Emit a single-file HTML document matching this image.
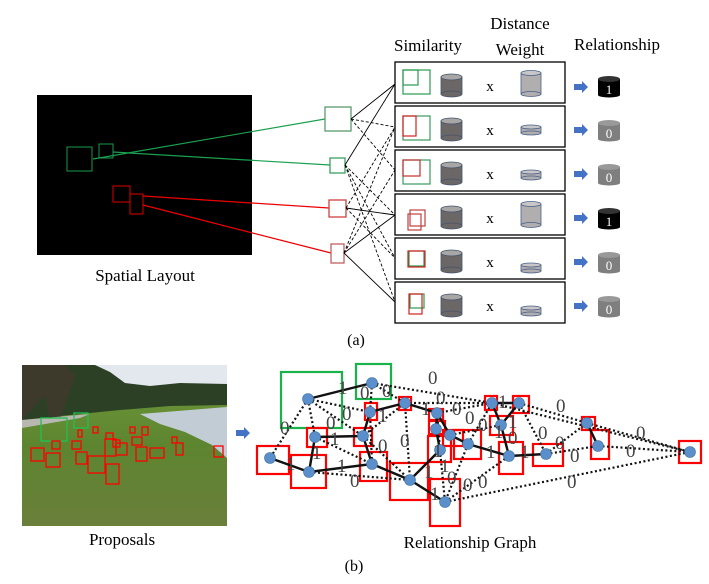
<!DOCTYPE html>
<html><head><meta charset="utf-8"><style>
html,body{margin:0;padding:0;background:#fff;}
svg{display:block;}
text{font-family:"Liberation Serif",serif;}
</style></head><body>
<svg width="709" height="584" viewBox="0 0 709 584" xmlns="http://www.w3.org/2000/svg">
<defs>
<g id="dcyl"><rect x="0" y="4" width="21" height="17" fill="#6b6767" stroke="#44546a" stroke-width="0.8"/><ellipse cx="10.5" cy="21" rx="10.5" ry="3" fill="#6b6767" stroke="#44546a" stroke-width="0.8"/><ellipse cx="10.5" cy="4" rx="10.5" ry="3" fill="#a9a6a6" stroke="#44546a" stroke-width="0.8"/></g>
<g id="ltall"><rect x="0" y="3" width="20" height="21" fill="#b0aeae" stroke="#4a5f8a" stroke-width="0.8"/><ellipse cx="10" cy="24" rx="10" ry="2.5" fill="#b0aeae" stroke="#4a5f8a" stroke-width="0.8"/><ellipse cx="10" cy="3" rx="10" ry="2.5" fill="#c8c6c6" stroke="#4a5f8a" stroke-width="0.8"/></g>
<g id="lshort"><rect x="0" y="2" width="20" height="6" fill="#b0aeae" stroke="#4a5f8a" stroke-width="0.8"/><ellipse cx="10" cy="8" rx="10" ry="2" fill="#b0aeae" stroke="#4a5f8a" stroke-width="0.8"/><ellipse cx="10" cy="2" rx="10" ry="2" fill="#c8c6c6" stroke="#4a5f8a" stroke-width="0.8"/></g>
<g id="arr"><path d="M0,-3 H8 V-6 L14,0 L8,6 V3 H0 Z" fill="#4472c4"/></g>
</defs>

<text x="428" y="51" font-size="17" text-anchor="middle">Similarity</text>
<text x="520" y="29" font-size="17" text-anchor="middle">Distance</text>
<text x="520" y="55" font-size="17" text-anchor="middle">Weight</text>
<text x="617" y="50" font-size="17" text-anchor="middle">Relationship</text>

<rect x="37" y="95" width="215" height="160" fill="#000"/>
<rect x="67" y="147" width="25" height="24" fill="none" stroke="#1a9a4a" stroke-width="1"/>
<rect x="99" y="144" width="14" height="14" fill="none" stroke="#1a9a4a" stroke-width="1"/>
<rect x="113" y="186" width="17" height="16" fill="none" stroke="#d00" stroke-width="1"/>
<rect x="130" y="194" width="13" height="20" fill="none" stroke="#d00" stroke-width="1"/>
<line x1="93" y1="159" x2="325" y2="119" stroke="#1aa04e" stroke-width="1.2"/>
<line x1="113" y1="152" x2="330" y2="165" stroke="#1aa04e" stroke-width="1.2"/>
<line x1="143" y1="196" x2="329" y2="208" stroke="#e00" stroke-width="1.2"/>
<line x1="143" y1="205" x2="331" y2="253" stroke="#e00" stroke-width="1.2"/>
<text x="145" y="281" font-size="17" text-anchor="middle">Spatial Layout</text>

<rect x="325" y="107" width="26" height="24" fill="#fff" stroke="#5a9a70" stroke-width="1.3"/>
<rect x="330" y="158" width="15" height="15" fill="#fff" stroke="#3aa060" stroke-width="1.3"/>
<rect x="329" y="200" width="17" height="17" fill="#fff" stroke="#d04040" stroke-width="1.3"/>
<rect x="331" y="244" width="13" height="19" fill="#fff" stroke="#c06060" stroke-width="1.3"/>

<g stroke="#000" stroke-width="0.9" fill="none">
<line x1="351" y1="119" x2="395" y2="84"/>
<line x1="345" y1="165" x2="395" y2="84"/>
<line x1="346" y1="208" x2="395" y2="215"/>
<line x1="344" y1="253" x2="395" y2="215"/>
<line x1="344" y1="253" x2="395" y2="302"/>
</g>
<g stroke="#000" stroke-width="0.9" fill="none" stroke-dasharray="3,2">
<line x1="351" y1="119" x2="395" y2="127"/>
<line x1="351" y1="119" x2="395" y2="170"/>
<line x1="345" y1="165" x2="395" y2="258"/>
<line x1="345" y1="165" x2="395" y2="302"/>
<line x1="345" y1="165" x2="395" y2="215"/>
<line x1="346" y1="208" x2="395" y2="127"/>
<line x1="346" y1="208" x2="395" y2="258"/>
<line x1="344" y1="253" x2="395" y2="170"/>
<line x1="344" y1="253" x2="395" y2="127"/>
</g>

<g stroke="#000" stroke-width="1.3" fill="#fff">
<rect x="395" y="62" width="170" height="41"/>
<rect x="395" y="106" width="170" height="41"/>
<rect x="395" y="150" width="170" height="41"/>
<rect x="395" y="194" width="170" height="41"/>
<rect x="395" y="238" width="170" height="41"/>
<rect x="395" y="282" width="170" height="41"/>
</g>
<g fill="none" stroke-width="1.2">
<rect x="403" y="70" width="27" height="24" stroke="#2a9a50"/><rect x="403" y="70" width="15" height="15" stroke="#2a9a50"/>
<rect x="403" y="116" width="27" height="24" stroke="#3a9a60"/><rect x="403" y="116" width="13" height="20" stroke="#d02020"/>
<rect x="403" y="160" width="27" height="24" stroke="#3a9a60"/><rect x="403" y="160" width="17" height="16" stroke="#c03030"/>
<rect x="410" y="210" width="15" height="16" stroke="#c04040"/><rect x="408" y="214" width="13" height="16" stroke="#c04040"/>
<rect x="409" y="251" width="15" height="15" stroke="#2a9a50"/><rect x="408" y="251" width="17" height="16" stroke="#d02020"/>
<rect x="410" y="294" width="14" height="14" stroke="#2a9a50"/><rect x="409" y="294" width="13" height="20" stroke="#d02020"/>
</g>
<use href="#dcyl" x="441" y="73"/><use href="#dcyl" x="441" y="117"/><use href="#dcyl" x="441" y="161"/>
<use href="#dcyl" x="441" y="205"/><use href="#dcyl" x="441" y="249"/><use href="#dcyl" x="441" y="293"/>
<g font-size="15" text-anchor="middle">
<text x="490" y="91" font-family="Liberation Sans,sans-serif">x</text>
<text x="490" y="135" font-family="Liberation Sans,sans-serif">x</text>
<text x="490" y="179" font-family="Liberation Sans,sans-serif">x</text>
<text x="490" y="223" font-family="Liberation Sans,sans-serif">x</text>
<text x="490" y="267" font-family="Liberation Sans,sans-serif">x</text>
<text x="490" y="311" font-family="Liberation Sans,sans-serif">x</text>
</g>
<use href="#ltall" x="521" y="70"/>
<use href="#lshort" x="521" y="125"/>
<use href="#lshort" x="521" y="170"/>
<use href="#ltall" x="521" y="201"/>
<use href="#lshort" x="521" y="263"/>
<use href="#lshort" x="521" y="306"/>

<use href="#arr" x="574" y="87"/><use href="#arr" x="574" y="130"/><use href="#arr" x="574" y="174"/>
<use href="#arr" x="574" y="218"/><use href="#arr" x="574" y="262"/><use href="#arr" x="574" y="306"/>
<g>
<rect x="598" y="79" width="22" height="16" fill="#000"/><ellipse cx="609" cy="79" rx="11" ry="3" fill="#333"/><ellipse cx="609" cy="95" rx="11" ry="2.5" fill="#000"/>
<text x="609" y="94" font-size="13" fill="#fff" text-anchor="middle" font-family="Liberation Sans,sans-serif">1</text>
<rect x="598" y="211" width="22" height="16" fill="#000"/><ellipse cx="609" cy="211" rx="11" ry="3" fill="#333"/><ellipse cx="609" cy="227" rx="11" ry="2.5" fill="#000"/>
<text x="609" y="226" font-size="13" fill="#fff" text-anchor="middle" font-family="Liberation Sans,sans-serif">1</text>
</g>
<g fill="#7f7f7f">
<rect x="598" y="123" width="22" height="16"/><ellipse cx="609" cy="123" rx="11" ry="3" fill="#999"/><ellipse cx="609" cy="139" rx="11" ry="2.5"/>
<rect x="598" y="167" width="22" height="16"/><ellipse cx="609" cy="167" rx="11" ry="3" fill="#999"/><ellipse cx="609" cy="183" rx="11" ry="2.5"/>
<rect x="598" y="255" width="22" height="16"/><ellipse cx="609" cy="255" rx="11" ry="3" fill="#999"/><ellipse cx="609" cy="271" rx="11" ry="2.5"/>
<rect x="598" y="299" width="22" height="16"/><ellipse cx="609" cy="299" rx="11" ry="3" fill="#999"/><ellipse cx="609" cy="315" rx="11" ry="2.5"/>
</g>
<g fill="#fff" font-size="13" text-anchor="middle">
<text x="609" y="138" font-family="Liberation Sans,sans-serif">0</text><text x="609" y="182" font-family="Liberation Sans,sans-serif">0</text>
<text x="609" y="270" font-family="Liberation Sans,sans-serif">0</text><text x="609" y="314" font-family="Liberation Sans,sans-serif">0</text>
</g>
<text x="356" y="345" font-size="16" text-anchor="middle">(a)</text>

<!-- photo -->
<defs>
<linearGradient id="grass" x1="0" y1="0" x2="0" y2="1"><stop offset="0" stop-color="#6f9a3a"/><stop offset="0.5" stop-color="#5d8530"/><stop offset="1" stop-color="#6a7f3a"/></linearGradient>
</defs>
<rect x="22" y="365" width="205" height="161" fill="url(#grass)"/>
<rect x="22" y="365" width="205" height="28" fill="#e2e8ee"/>
<path d="M22,365 H95 L110,372 L125,383 L150,386 L180,383 L227,384 V405 L170,406 L120,410 L80,414 L22,420 Z" fill="#2c4025"/>
<path d="M22,365 H65 L75,375 L60,420 L50,422 L45,395 L22,420 Z" fill="#3d3a2c"/>
<path d="M22,420 L90,414 L80,418 L22,428 Z" fill="#b8b8b0"/>
<path d="M140,414 L227,407 V458 L212,445 L185,432 L160,424 Z" fill="#c2ccd4"/>
<g fill="none" stroke-width="1.3">
<rect x="41" y="418" width="26" height="23" stroke="#20c050"/>
<rect x="74" y="413" width="14" height="15" stroke="#20c050"/>
<g stroke="#f00">
<rect x="31" y="448" width="13" height="13"/><rect x="46" y="453" width="14" height="14"/><rect x="52" y="441" width="8" height="8"/>
<rect x="72" y="441" width="9" height="8"/><rect x="78" y="430" width="4" height="7"/><rect x="93" y="427" width="5" height="6"/>
<rect x="76" y="452" width="11" height="12"/><rect x="88" y="456" width="17" height="17"/><rect x="106" y="464" width="13" height="20"/>
<rect x="106" y="433" width="7" height="6"/><rect x="105" y="439" width="11" height="17"/><rect x="113" y="440" width="7" height="7"/>
<rect x="116" y="443" width="11" height="12"/><rect x="130" y="427" width="5" height="6"/><rect x="132" y="437" width="10" height="8"/>
<rect x="142" y="427" width="6" height="8"/><rect x="136" y="447" width="11" height="14"/><rect x="150" y="448" width="14" height="10"/>
<rect x="172" y="437" width="5" height="6"/><rect x="176" y="443" width="7" height="12"/><rect x="214" y="446" width="9" height="11"/>
</g></g>
<text x="122" y="545" font-size="17" text-anchor="middle">Proposals</text>
<use href="#arr" x="236" y="433"/>

<!-- relationship graph -->
<g fill="none" stroke-width="2.2">
<rect x="281" y="372" width="61" height="56" stroke="#1ab24a"/>
<rect x="356" y="364" width="35" height="35" stroke="#1ab24a"/>
<g stroke="#f00">
<rect x="365" y="403" width="12" height="17"/><rect x="399" y="397" width="12" height="13"/><rect x="429" y="409" width="14" height="11"/>
<rect x="429" y="421" width="16" height="13"/><rect x="443" y="430" width="20" height="16"/><rect x="454" y="430" width="27" height="29"/>
<rect x="428" y="436" width="23" height="26"/><rect x="307" y="428" width="20" height="19"/><rect x="354" y="428" width="18" height="18"/>
<rect x="257" y="446" width="32" height="28"/><rect x="291" y="455" width="35" height="33"/><rect x="360" y="452" width="27" height="29"/>
<rect x="390" y="463" width="38" height="37"/><rect x="430" y="479" width="30" height="47"/>
<rect x="485" y="396" width="12" height="14"/><rect x="513" y="396" width="16" height="17"/><rect x="490" y="416" width="23" height="19"/>
<rect x="499" y="442" width="24" height="32"/><rect x="533" y="444" width="30" height="22"/><rect x="582" y="417" width="13" height="13"/>
<rect x="591" y="430" width="18" height="29"/><rect x="679" y="441" width="22" height="22"/>
</g></g>
<g stroke="#111" stroke-width="2.2" stroke-dasharray="2,2.5" fill="none">
<path d="M308,399 L270,458 M308,399 L315,437 M308,399 L363,436 M308,399 L370,412 M372,383 L492,403 M372,383 L405,403 M372,383 L370,412
M405,403 L492,403 M405,403 L363,436 M405,403 L410,480 M405,403 L437,413 M437,413 L492,403 M450,435 L501,425 M468,444 L492,403
M309,472 L410,480 M315,437 L372,464 M363,436 L410,480 M372,464 L410,480 M440,450 L445,502 M468,444 L445,502 M445,502 L509,456
M445,502 L690,452 M519,403 L587,423 M519,403 L546,454 M546,454 L587,423 M546,454 L598,446 M598,446 L690,452 M587,423 L690,452
M492,403 L690,452 M370,412 L372,464 M437,413 L440,450 M509,456 L501,425"/>
</g>
<g stroke="#111" stroke-width="2.4" fill="none">
<path d="M308,399 L372,383 M315,437 L363,436 M315,437 L309,472 M270,458 L309,472 L372,464 L410,480 L445,502 M410,480 L440,450
M363,436 L370,412 L405,403 L437,413 L450,435 L468,444 L509,456 L546,454 M437,413 L436,429 L440,450 M509,456 L501,425 L492,403 L519,403 L501,425
M587,423 L598,446 M363,436 L372,464"/>
</g>
<g fill="#5b8fcb" stroke="#41719c" stroke-width="0.6">
<circle cx="308" cy="399" r="5.5"/><circle cx="372" cy="383" r="5.5"/><circle cx="370" cy="412" r="5.5"/><circle cx="405" cy="403" r="5.5"/>
<circle cx="437" cy="413" r="5.5"/><circle cx="436" cy="429" r="5.5"/><circle cx="450" cy="435" r="5.5"/><circle cx="468" cy="444" r="5.5"/>
<circle cx="440" cy="450" r="5.5"/><circle cx="315" cy="437" r="5.5"/><circle cx="363" cy="436" r="5.5"/><circle cx="270" cy="458" r="5.5"/>
<circle cx="309" cy="472" r="5.5"/><circle cx="372" cy="464" r="5.5"/><circle cx="410" cy="480" r="5.5"/><circle cx="445" cy="502" r="5.5"/>
<circle cx="492" cy="403" r="5.5"/><circle cx="519" cy="403" r="5.5"/><circle cx="501" cy="425" r="5.5"/><circle cx="509" cy="456" r="5.5"/>
<circle cx="546" cy="454" r="5.5"/><circle cx="587" cy="423" r="5.5"/><circle cx="598" cy="446" r="5.5"/><circle cx="690" cy="452" r="5.5"/>
</g>
<g font-size="19" fill="#444">
<text x="338" y="394">1</text><text x="360" y="399">0</text><text x="382" y="397">0</text><text x="428" y="384">0</text>
<text x="342" y="420">0</text><text x="326" y="429">0</text><text x="280" y="434">0</text><text x="330" y="445">1</text>
<text x="312" y="459">1</text><text x="286" y="470">1</text><text x="337" y="472">1</text><text x="350" y="487">0</text>
<text x="378" y="422">1</text><text x="436" y="404">0</text><text x="421" y="415">1</text>
<text x="452" y="415">0</text><text x="465" y="424">0</text><text x="478" y="431">0</text>
<text x="378" y="452">0</text><text x="400" y="447">0</text><text x="433" y="457">1</text>
<text x="440" y="472">1</text><text x="424" y="478">1</text><text x="447" y="484">0</text>
<text x="463" y="491">0</text><text x="430" y="500">1</text><text x="478" y="488">0</text>
<text x="494" y="438">1</text><text x="498" y="408">1</text><text x="508" y="428">1</text>
<text x="508" y="444">0</text><text x="486" y="458">1</text><text x="520" y="458">1</text><text x="538" y="439">0</text>
<text x="555" y="449">0</text><text x="570" y="462">0</text><text x="626" y="457">0</text>
<text x="636" y="439">0</text><text x="556" y="412">0</text><text x="567" y="488">0</text>
</g>
<text x="470" y="548" font-size="17" text-anchor="middle">Relationship Graph</text>
<text x="354" y="571" font-size="16" text-anchor="middle">(b)</text>
</svg>
</body></html>
